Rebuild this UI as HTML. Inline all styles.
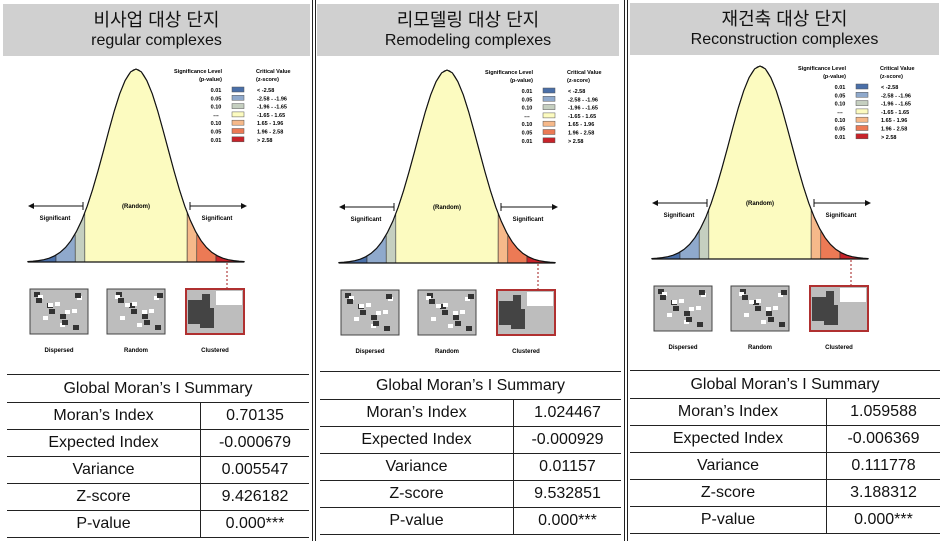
<!DOCTYPE html>
<html><head><meta charset="utf-8"><style>
body{margin:0;width:942px;height:541px;background:#fff;position:relative;overflow:hidden;font-family:"Liberation Sans","Noto Sans CJK KR",sans-serif}
.sep{position:absolute;top:0;height:541px;width:1px;background:#222}
.panel{position:absolute;top:0;height:541px}
.hdr{position:absolute;background:#d0d0d0;text-align:center;color:#111}
.hdr .k{font-size:18px;line-height:22px}
.hdr .e{font-size:16px;line-height:20px}
table{position:absolute;border-collapse:collapse;font-size:16px;color:#111}
td{border-top:1px solid #222;border-bottom:1px solid #222;text-align:center;height:26px;padding:0}
td.l{border-right:1px solid #222}
svg{position:absolute;left:0;top:0}
svg text{font-family:"Liberation Sans",sans-serif}
</style></head><body>
<div class="sep" style="left:312px"></div>
<div class="sep" style="left:315px"></div>
<div class="sep" style="left:624px"></div>
<div class="sep" style="left:627px"></div>
<div id="root"></div>
<script>
const koTitles=["비사업 대상 단지","리모델링 대상 단지","재건축 대상 단지"];
const enTitles=["regular complexes","Remodeling complexes","Reconstruction complexes"];
const rowLabels=["Moran’s Index","Expected Index","Variance","Z-score","P-value"];
const values1=["0.70135","-0.000679","0.005547","9.426182","0.000***"];
const values2=["1.024467","-0.000929","0.01157","9.532851","0.000***"];
const values3=["1.059588","-0.006369","0.111778","3.188312","0.000***"];
const allValues=[values1,values2,values3];
const zBreaks=[-3.5,-2.58,-1.96,-1.65,1.65,1.96,2.58,3.5];
const zColors=["#4a6fa8","#8fa9cc","#c5cfc0","#fcfbc0","#f6b98a","#ec7a55","#c8232a"];
const legP=["0.01","0.05","0.10","---","0.10","0.05","0.01"];
const legZ=["< -2.58","-2.58 - -1.96","-1.96 - -1.65","-1.65 - 1.65","1.65 - 1.96","1.96 - 2.58","> 2.58"];
const geo=[{px:0,w:311,hx:3,hy:4,cx:0,cy:0,ty:374,tx:7,col:193},{px:317,w:306,hx:317,hy:4,cx:311,cy:1,ty:371,tx:320,col:193},{px:629,w:313,hx:630,hy:3,cx:624,cy:-3,ty:370,tx:630,col:196}];
const root=document.getElementById('root');
function sx(z){return 136+z*31;}
function sy(z){return 262-193*Math.exp(-z*z/2);}
function curvePath(a,b,closed){let d='';for(let i=0;i<=40;i++){const z=a+(b-a)*i/40;d+=(i?'L':'M')+sx(z).toFixed(1)+','+sy(z).toFixed(1);}if(closed)d+='L'+sx(b)+',262L'+sx(a)+',262Z';return d;}
geo.forEach((g,pi)=>{
 const p=document.createElement('div');p.className='panel';p.style.left=g.px+'px';p.style.width=g.w+'px';
 
 
 root.appendChild(p);
 const h=document.createElement('div');h.className='hdr';
 
 
 h.style.cssText=`left:${g.hx-g.px}px;top:${g.hy}px;width:${g.w-4}px;height:52px;padding-top:5px;box-sizing:border-box`;
 h.innerHTML=`<div class="k">${koTitles[pi]}</div><div class="e">${enTitles[pi]}</div>`;
 p.appendChild(h);
 const ns='http://www.w3.org/2000/svg';
 const svg=document.createElementNS(ns,'svg');svg.setAttribute('width',g.w+10);svg.setAttribute('height','370');
 
 
 let inner='';
 for(let i=0;i<zColors.length;i++){inner+=`<path d="${curvePath(zBreaks[i],zBreaks[i+1],true)}" fill="${zColors[i]}" stroke="#333" stroke-width="0.6"/>`;}
 inner+=`<path d="${curvePath(-3.5,3.5,false)}" fill="none" stroke="#111" stroke-width="1.2"/>`;
 inner+=`<line x1="28" y1="262" x2="244" y2="262" stroke="#111" stroke-width="1.2"/>`;
 inner+=`<line x1="29" y1="206" x2="83" y2="206" stroke="#111"/><path d="M28,206l6,-3v6z" fill="#111"/><line x1="83" y1="202" x2="83" y2="210" stroke="#111"/>`;
 inner+=`<line x1="190" y1="206" x2="245" y2="206" stroke="#111"/><path d="M247,206l-6,-3v6z" fill="#111"/><line x1="190" y1="202" x2="190" y2="210" stroke="#111"/>`;
 inner+=`<text x="55" y="220" font-size="6" font-weight="bold" text-anchor="middle">Significant</text><text x="217" y="220" font-size="6" font-weight="bold" text-anchor="middle">Significant</text><text x="136" y="208" font-size="6" font-weight="bold" text-anchor="middle">(Random)</text>`;
 inner+=`<text x="222" y="73" font-size="5.5" font-weight="bold" text-anchor="end">Significance Level</text><text x="222" y="81" font-size="5.5" font-weight="bold" text-anchor="end">(p-value)</text><text x="256" y="73" font-size="5.5" font-weight="bold">Critical Value</text><text x="256" y="81" font-size="5.5" font-weight="bold">(z-score)</text>`;
 for(let i=0;i<7;i++){const y=90+i*8.3;inner+=`<text x="216" y="${y+2}" font-size="5.5" font-weight="bold" text-anchor="middle">${legP[i]}</text><rect x="232" y="${y-3}" width="12" height="5" fill="${zColors[i]}" stroke="#555" stroke-width="0.5"/><text x="257" y="${y+2}" font-size="5.5" font-weight="bold">${legZ[i]}</text>`;}
 inner+=`<line x1="227" y1="263" x2="227" y2="288" stroke="#b04040" stroke-dasharray="2,2" stroke-width="1.2"/>`;
 const mx=[30,107,186];const ml=["Dispersed","Random","Clustered"];
 mx.forEach((x,i)=>{inner+=`<rect x="${x}" y="289" width="58" height="45" fill="#bdbdbd" stroke="${i==2?'#b03030':'#444'}" stroke-width="${i==2?2:1}"/>`;
  if(i==2){inner+=`<path d="M${x+2},300h14v-6h8v14h4v20h-14v-4h-12z" fill="#444"/><rect x="${x+30}" y="291" width="26" height="14" fill="#fff"/>`;}
  else{for(let k=0;k<8;k++){inner+=`<rect x="${x+4+(k*13+i*5)%50}" y="${292+(k*11)%38}" width="6" height="5" fill="#333"/><rect x="${x+8+(k*17)%46}" y="${295+(k*7)%34}" width="5" height="4" fill="#fff"/>`;}}
  inner+=`<text x="${x+29}" y="352" font-size="6" font-weight="bold" text-anchor="middle">${ml[i]}</text>`;});
 svg.innerHTML=`<g transform="translate(${g.cx-g.px},${g.cy})">${inner}</g>`;
 p.appendChild(svg);
 const t=document.createElement('table');
 
 
 t.style.cssText=`left:${g.tx-g.px}px;top:${g.ty}px;width:${g.w-(g.tx-g.px)-2}px`;
 let html=`<tr><td colspan="2" style="height:27px">Global Moran’s I Summary</td></tr>`;
 rowLabels.forEach((l,i)=>{html+=`<tr><td class="l" style="width:${g.col}px">${l}</td><td>${allValues[pi][i]}</td></tr>`;});
 t.innerHTML=html;p.appendChild(t);
});
</script>
</body></html>
